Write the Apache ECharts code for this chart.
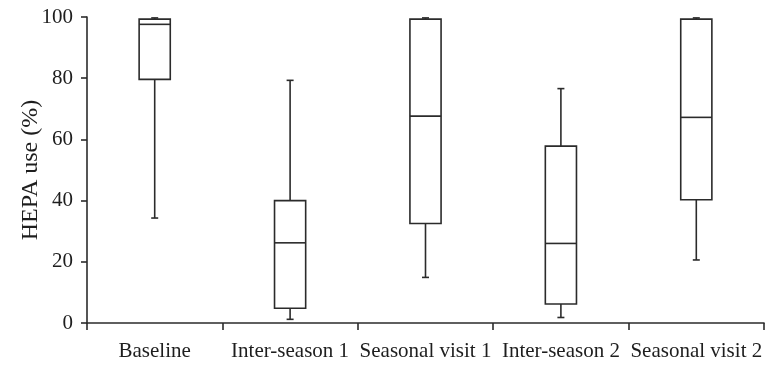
<!DOCTYPE html>
<html>
<head>
<meta charset="utf-8">
<script src="https://cdn.jsdelivr.net/npm/echarts@6/dist/echarts.min.js"></script>
<style>
  html, body { margin: 0; padding: 0; background: #fff; }
  #main { width: 767px; height: 369px; }
</style>
</head>
<body>
<div id="main"></div>
<script>
// visits and five-number summaries
var categories = ["Baseline", "Inter-season 1", "Seasonal visit 1", "Inter-season 2", "Seasonal visit 2"];
var mins    = [34.3, 1.2, 14.9, 1.8, 20.6];
var q1s     = [79.6, 4.8, 32.5, 6.2, 40.3];
var medians = [97.6, 26.2, 67.6, 26.0, 67.2];
var q3s     = [99.3, 40.0, 99.3, 57.8, 99.3];
var maxs    = [99.7, 79.3, 99.7, 76.6, 99.7];
var yTicks  = [0, 20, 40, 60, 80, 100];

var lineColor = "#2b2b2b";
var font = "'Liberation Serif', 'DejaVu Serif', serif";

var boxData = categories.map(function (c, i) {
  return [i, mins[i], q1s[i], medians[i], q3s[i], maxs[i]];
});

function renderBox(params, api) {
  var idx = api.value(0);
  var pMin = api.coord([idx, api.value(1)]);
  var pQ1 = api.coord([idx, api.value(2)]);
  var pMed = api.coord([idx, api.value(3)]);
  var pQ3 = api.coord([idx, api.value(4)]);
  var pMax = api.coord([idx, api.value(5)]);
  var halfW = api.size([1, 0])[0] * 0.115;
  var capW = 3.5;
  var x = pMed[0];
  var style = { stroke: lineColor, lineWidth: 1.6, fill: null };
  return {
    type: "group",
    children: [
      { type: "line", shape: { x1: x, y1: pMax[1], x2: x, y2: pQ3[1] }, style: style },
      { type: "line", shape: { x1: x, y1: pQ1[1], x2: x, y2: pMin[1] }, style: style },
      { type: "line", shape: { x1: x - capW, y1: pMax[1], x2: x + capW, y2: pMax[1] }, style: style },
      { type: "line", shape: { x1: x - capW, y1: pMin[1], x2: x + capW, y2: pMin[1] }, style: style },
      {
        type: "rect",
        shape: { x: x - halfW, y: pQ3[1], width: halfW * 2, height: pQ1[1] - pQ3[1] },
        style: { stroke: lineColor, lineWidth: 1.6, fill: "#fff" }
      },
      { type: "line", shape: { x1: x - halfW, y1: pMed[1], x2: x + halfW, y2: pMed[1] }, style: style }
    ]
  };
}

var myChart = echarts.init(document.getElementById("main"));
var option = {
  animation: false,
  grid: { left: 87, right: 3, top: 17, bottom: 46 },
  xAxis: {
    type: "category",
    data: categories,
    boundaryGap: true,
    axisLine: { lineStyle: { color: lineColor, width: 1.6 } },
    axisTick: { show: true, length: 7, lineStyle: { color: lineColor, width: 1.6 } },
    axisLabel: { color: "#1e1e1e", fontFamily: font, fontSize: 21, margin: 18, interval: 0 },
    splitLine: { show: false }
  },
  yAxis: {
    type: "value",
    min: yTicks[0],
    max: yTicks[yTicks.length - 1],
    interval: 20,
    name: "HEPA use (%)",
    nameLocation: "middle",
    nameRotate: 90,
    nameGap: 44,
    nameMoveOverlap: false,
    nameTextStyle: { color: "#1e1e1e", fontFamily: font, fontSize: 24 },
    axisLine: { show: true, lineStyle: { color: lineColor, width: 1.6 } },
    axisTick: { show: true, length: 6, lineStyle: { color: lineColor, width: 1.6 } },
    axisLabel: { color: "#1e1e1e", fontFamily: font, fontSize: 21, margin: 14 },
    splitLine: { show: false }
  },
  series: [
    {
      type: "custom",
      renderItem: renderBox,
      encode: { x: 0, y: [1, 2, 3, 4, 5] },
      data: boxData
    }
  ]
};
myChart.setOption(option);
window.addEventListener("resize", function () {
  myChart.resize();
});
</script>
</body>
</html>
